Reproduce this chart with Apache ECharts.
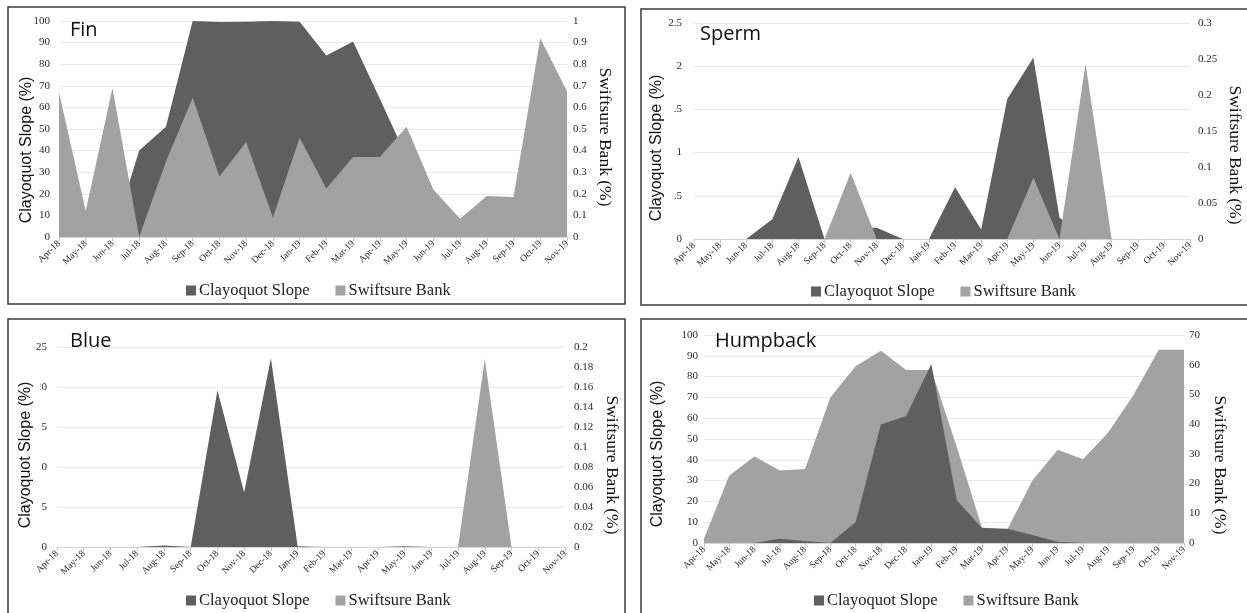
<!DOCTYPE html>
<html>
<head>
<meta charset="utf-8">
<script src="https://cdn.jsdelivr.net/npm/echarts@6/dist/echarts.min.js"></script>
<style>
  html, body { margin: 0; padding: 0; background: #ffffff; }
  #chart { width: 1247px; height: 613px; }
</style>
</head>
<body>
<div id="chart"></div>
<script>
// Months on the shared category axis
const months = ['Apr-18', 'May-18', 'Jun-18', 'Jul-18', 'Aug-18', 'Sep-18', 'Oct-18', 'Nov-18',
  'Dec-18', 'Jan-19', 'Feb-19', 'Mar-19', 'Apr-19', 'May-19', 'Jun-19', 'Jul-19', 'Aug-19',
  'Sep-19', 'Oct-19', 'Nov-19'];

const seriesNames = ['Clayoquot Slope', 'Swiftsure Bank'];

// Fin whale (left axis: Clayoquot Slope %, right axis: Swiftsure Bank %)
const finClayoquot = [0, 0, 0, 40, 51, 100, 99.5, 99.7, 100, 99.7, 84, 90.5, 64, 37, 0, 0, 0, 0, 0, 0];
const finSwiftsure = [0.67, 0.12, 0.69, 0, 0.35, 0.645, 0.28, 0.44, 0.09, 0.46, 0.225, 0.37, 0.37, 0.51, 0.22, 0.085, 0.19, 0.185, 0.92, 0.675];

// Sperm whale
const spermClayoquot = [0, 0, 0, 0.23, 0.95, 0, 0.13, 0.13, 0, 0, 0.6, 0.11, 1.62, 2.1, 0.25, 0, 0, 0, 0, 0];
const spermSwiftsure = [0, 0, 0, 0, 0, 0, 0.092, 0, 0, 0, 0, 0, 0, 0.085, 0, 0.243, 0, 0, 0, 0];

// Blue whale
const blueClayoquot = [0, 0, 0, 0, 0.2, 0, 19.6, 6.8, 23.6, 0.1, 0, 0, 0, 0.1, 0, 0, 0, 0, 0, 0];
const blueSwiftsure = [0, 0, 0, 0, 0, 0, 0, 0, 0, 0, 0, 0, 0, 0, 0, 0, 0.188, 0, 0, 0];

// Humpback whale
const humpbackClayoquot = [0, 0, 0, 2, 1, 0, 10, 57, 61, 86, 20.7, 7.2, 6.8, 3.8, 0.6, 0, 0, 0, 0, 0];
const humpbackSwiftsure = [1.5, 22.7, 29.1, 24.4, 24.9, 49, 59.5, 64.7, 58.2, 58.2, 32.5, 5.2, 4.5, 21, 31.4, 28.2, 37.2, 49.8, 65, 65];

// Axis scales: [min, max, step]
const finLeftTicks = [0, 100, 10];
const finRightTicks = [0, 1, 0.1];
const spermLeftTicks = [0, 2.5, 0.5];
const spermRightTicks = [0, 0.3, 0.05];
const blueLeftTicks = [0, 25, 5];
const blueRightTicks = [0, 0.2, 0.02];
const humpbackLeftTicks = [0, 100, 10];
const humpbackRightTicks = [0, 70, 10];

const leftAxisTitle = 'Clayoquot Slope (%)';
const rightAxisTitle = 'Swiftsure Bank (%)';

const DARK = '#5f5f5f';
const LIGHT = '#a2a2a2';
const SERIF = '"Liberation Serif", "Times New Roman", serif';
const SANS = '"Liberation Sans", Arial, sans-serif';
const HEAD = '"Open Sans", "Noto Sans", sans-serif';

// Per-panel layout
const panels = [
  { name: 'Fin', clay: finClayoquot, swift: finSwiftsure, lt: finLeftTicks, rt: finRightTicks,
    grid: { left: 59, top: 21, width: 508, height: 216 }, lMargin: 9, rMargin: 6, darkOnTop: false,
    box: [8, 7, 617, 297], head: [70, 30], lTitle: [27, 150], rTitle: [605, 137], legend: [181, 277], cover: null },
  { name: 'Sperm', clay: spermClayoquot, swift: spermSwiftsure, lt: spermLeftTicks, rt: spermRightTicks,
    grid: { left: 694, top: 23, width: 496, height: 216 }, lMargin: 12, rMargin: 8, darkOnTop: false,
    box: [641, 9, 620, 296], head: [700, 34], lTitle: [657, 148], rTitle: [1235, 155], legend: [806, 278],
    cover: [644, 70, 29.5, 156] },
  { name: 'Blue', clay: blueClayoquot, swift: blueSwiftsure, lt: blueLeftTicks, rt: blueRightTicks,
    grid: { left: 57, top: 347, width: 508, height: 200 }, lMargin: 10, rMargin: 9, darkOnTop: false,
    box: [8, 319, 617, 310], head: [70, 341], lTitle: [26, 455], rTitle: [612, 465], legend: [181, 587],
    cover: [11, 376, 29.5, 158] },
  { name: 'Humpback', clay: humpbackClayoquot, swift: humpbackSwiftsure, lt: humpbackLeftTicks, rt: humpbackRightTicks,
    grid: { left: 704, top: 335, width: 480, height: 208 }, lMargin: 6, rMargin: 5, darkOnTop: true,
    box: [641, 319, 620, 310], head: [715, 341], lTitle: [658, 454], rTitle: [1220, 465], legend: [809, 587], cover: null }
];

const grid = [];
const xAxis = [];
const yAxis = [];
const series = [];
const legend = [];
const graphic = [];

panels.forEach((p, i) => {
  grid.push(Object.assign({ containLabel: false }, p.grid));

  xAxis.push({
    type: 'category', gridIndex: i, data: months, boundaryGap: false,
    axisLine: { show: true, lineStyle: { color: '#d4d4d4', width: 1 } },
    axisTick: { show: true, alignWithLabel: true, length: 4, lineStyle: { color: '#c4c4c4' } },
    axisLabel: { rotate: 45, interval: 0, margin: 5, fontFamily: SERIF, fontSize: 9.5, color: '#2a2a2a' },
    splitLine: { show: false }
  });

  yAxis.push({
    type: 'value', gridIndex: i, position: 'left',
    min: p.lt[0], max: p.lt[1], interval: p.lt[2],
    axisLine: { show: false }, axisTick: { show: false },
    axisLabel: { margin: p.lMargin, fontFamily: SERIF, fontSize: 11, color: '#2a2a2a' },
    splitLine: { show: true, lineStyle: { color: '#e9e9e9', width: 1 } }
  });
  yAxis.push({
    type: 'value', gridIndex: i, position: 'right',
    min: p.rt[0], max: p.rt[1], interval: p.rt[2],
    axisLine: { show: false }, axisTick: { show: false },
    axisLabel: { margin: p.rMargin, fontFamily: SERIF, fontSize: 11, color: '#2a2a2a' },
    splitLine: { show: false }
  });

  const dark = {
    name: seriesNames[0], type: 'line', xAxisIndex: i, yAxisIndex: 2 * i,
    data: p.clay, symbol: 'none', smooth: false, silent: true,
    color: DARK, itemStyle: { color: DARK },
    lineStyle: { width: 0, color: DARK }, areaStyle: { color: DARK, opacity: 1 }
  };
  const light = {
    name: seriesNames[1], type: 'line', xAxisIndex: i, yAxisIndex: 2 * i + 1,
    data: p.swift, symbol: 'none', smooth: false, silent: true,
    color: LIGHT, itemStyle: { color: LIGHT },
    lineStyle: { width: 0, color: LIGHT }, areaStyle: { color: LIGHT, opacity: 1 }
  };
  if (p.darkOnTop) { series.push(light, dark); } else { series.push(dark, light); }

  legend.push({
    left: p.legend[0], top: p.legend[1], orient: 'horizontal',
    data: seriesNames, icon: 'rect', itemWidth: 10, itemHeight: 10, itemGap: 26,
    selectedMode: false,
    textStyle: { fontFamily: SERIF, fontSize: 16.5, color: '#222', padding: [0, 0, 0, -2] }
  });

  // panel frame
  graphic.push({
    type: 'rect', z: 60, silent: true,
    shape: { x: p.box[0], y: p.box[1], width: p.box[2], height: p.box[3] },
    style: { fill: 'none', stroke: '#3a3a3a', lineWidth: 1.5 }
  });
  // panel heading
  graphic.push({
    type: 'text', z: 60, silent: true, x: p.head[0], y: p.head[1],
    style: { text: p.name, font: '20px ' + HEAD, fill: '#111',
      align: 'left', verticalAlign: 'middle', textAlign: 'left', textVerticalAlign: 'middle' }
  });
  // white backing of the left axis title
  if (p.cover) {
    graphic.push({
      type: 'rect', z: 58, silent: true,
      shape: { x: p.cover[0], y: p.cover[1], width: p.cover[2], height: p.cover[3] },
      style: { fill: '#ffffff' }
    });
  }
  graphic.push({
    type: 'text', z: 60, silent: true, x: p.lTitle[0], y: p.lTitle[1], rotation: Math.PI / 2,
    style: { text: leftAxisTitle, font: '16px ' + SANS, fill: '#111',
      align: 'center', verticalAlign: 'middle', textAlign: 'center', textVerticalAlign: 'middle' }
  });
  graphic.push({
    type: 'text', z: 60, silent: true, x: p.rTitle[0], y: p.rTitle[1], rotation: -Math.PI / 2,
    style: { text: rightAxisTitle, font: '17.5px ' + SERIF, fill: '#111',
      align: 'center', verticalAlign: 'middle', textAlign: 'center', textVerticalAlign: 'middle' }
  });
});

const chart = echarts.init(document.getElementById('chart'), null, { renderer: 'canvas' });
chart.setOption({
  animation: false,
  backgroundColor: '#ffffff',
  grid, xAxis, yAxis, series, legend, graphic
});
</script>
</body>
</html>
